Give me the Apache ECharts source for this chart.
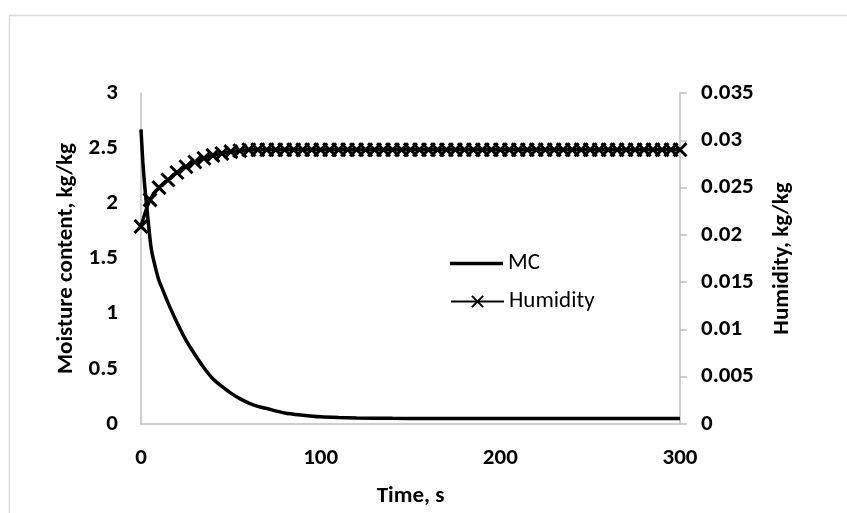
<!DOCTYPE html>
<html>
<head>
<meta charset="utf-8">
<script src="https://cdn.jsdelivr.net/npm/echarts@6/dist/echarts.min.js"></script>
<style>
html,body{margin:0;padding:0;background:#fff;}
#chart{width:847px;height:513px;}
</style>
</head>
<body>
<div id="chart"></div>
<script>
// Moisture content (kg/kg) vs time (s)
const mcTime = [0,1,2,3,4,5,6,8,10,12,15,20,25,30,35,40,45,50,55,60,65,70,80,90,100,110,120,140,160,200,250,300];
const mcValues = [2.67,2.38,2.17,2.00,1.84,1.68,1.56,1.42,1.30,1.22,1.10,0.92,0.76,0.63,0.51,0.41,0.34,0.28,0.23,0.19,0.16,0.14,0.10,0.08,0.065,0.058,0.054,0.051,0.05,0.05,0.05,0.05];

// Humidity (kg/kg) vs time (s)
const humTime = [0,5,10,15,20,25,30,35,40,45,50,55,60,65,70,75,80,85,90,95,100,105,110,115,120,125,130,135,140,145,150,155,160,165,170,175,180,185,190,195,200,205,210,215,220,225,230,235,240,245,250,255,260,265,270,275,280,285,290,295,300];
const humValues = [0.0209,0.0237,0.0250,0.0258,0.0266,0.0272,0.0277,0.0281,0.0284,0.0286,0.0288,0.0289,0.0290,0.0290,0.0290,0.0290,0.0290,0.0290,0.0290,0.0290,0.0290,0.0290,0.0290,0.0290,0.0290,0.0290,0.0290,0.0290,0.0290,0.0290,0.0290,0.0290,0.0290,0.0290,0.0290,0.0290,0.0290,0.0290,0.0290,0.0290,0.0290,0.0290,0.0290,0.0290,0.0290,0.0290,0.0290,0.0290,0.0290,0.0290,0.0290,0.0290,0.0290,0.0290,0.0290,0.0290,0.0290,0.0290,0.0290,0.0290,0.0290];

const xTitle = 'Time, s';
const yLeftTitle = 'Moisture content, kg/kg';
const yRightTitle = 'Humidity, kg/kg';
const seriesNames = ['MC', 'Humidity'];

const FONT = 'Carlito, "Open Sans", sans-serif';
const axisGray = '#bfbfbf';
const titleStyle = {color:'#000', fontFamily:FONT, fontWeight:700, fontSize:23};
const legendText = {color:'#000', fontFamily:FONT, fontWeight:400, fontSize:23};

const chart = echarts.init(document.getElementById('chart'), null, {renderer:'canvas'});
chart.setOption({
  animation:false,
  backgroundColor:'#fff',
  graphic:[{
    type:'rect', left:7, top:13, silent:true,
    shape:{width:900, height:560},
    style:{fill:'none', stroke:'#d9d9d9', lineWidth:1.5}
  }],
  grid:{left:141, right:167, top:93, bottom:88, containLabel:false},
  legend:[{
    orient:'vertical', left:445, top:247, itemWidth:53, itemHeight:3.5,
    icon:'rect', textStyle:legendText, data:[seriesNames[0]]
  },{
    orient:'vertical', left:445, top:285, itemWidth:53, itemHeight:14,
    textStyle:legendText, data:[seriesNames[1]]
  }],
  xAxis:{
    type:'value', min:0, max:300, interval:100,
    name:xTitle, nameLocation:'middle', nameGap:61,
    nameTextStyle:titleStyle,
    axisLine:{show:true, lineStyle:{color:axisGray, width:1.5}},
    axisTick:{show:false},
    axisLabel:{margin:23, color:'#000', fontFamily:FONT, fontWeight:700, fontSize:23},
    splitLine:{show:false}
  },
  yAxis:[{
    type:'value', min:0, max:3, interval:0.5,
    name:yLeftTitle, nameLocation:'middle', nameGap:62, nameRotate:90,
    nameTextStyle:titleStyle,
    axisLine:{show:true, lineStyle:{color:axisGray, width:1.5}},
    axisTick:{show:false},
    axisLabel:{margin:23, color:'#000', fontFamily:FONT, fontWeight:700, fontSize:23},
    splitLine:{show:false}
  },{
    type:'value', min:0, max:0.035, interval:0.005, position:'right',
    name:yRightTitle, nameLocation:'middle', nameGap:91, nameRotate:90,
    nameTextStyle:titleStyle,
    axisLine:{show:true, lineStyle:{color:axisGray, width:1.5}},
    axisTick:{show:true, inside:false, length:7, lineStyle:{color:axisGray, width:1.5}},
    axisLabel:{margin:21, color:'#000', fontFamily:FONT, fontWeight:700, fontSize:23},
    splitLine:{show:false}
  }],
  series:[{
    name:seriesNames[0], type:'line', yAxisIndex:0,
    data:mcTime.map((t,i)=>[t, mcValues[i]]),
    symbol:'none', smooth:0.25,
    lineStyle:{color:'#000', width:3.5},
    itemStyle:{color:'#000'}
  },{
    name:seriesNames[1], type:'line', yAxisIndex:1,
    data:humTime.map((t,i)=>[t, humValues[i]]),
    symbol:'path://M0,0L10,10M10,0L0,10', symbolSize:13, showAllSymbol:true,
    smooth:0.3,
    lineStyle:{color:'#000', width:3.5},
    itemStyle:{color:'#000', borderColor:'#000', borderWidth:3}
  }]
});
</script>
</body>
</html>
